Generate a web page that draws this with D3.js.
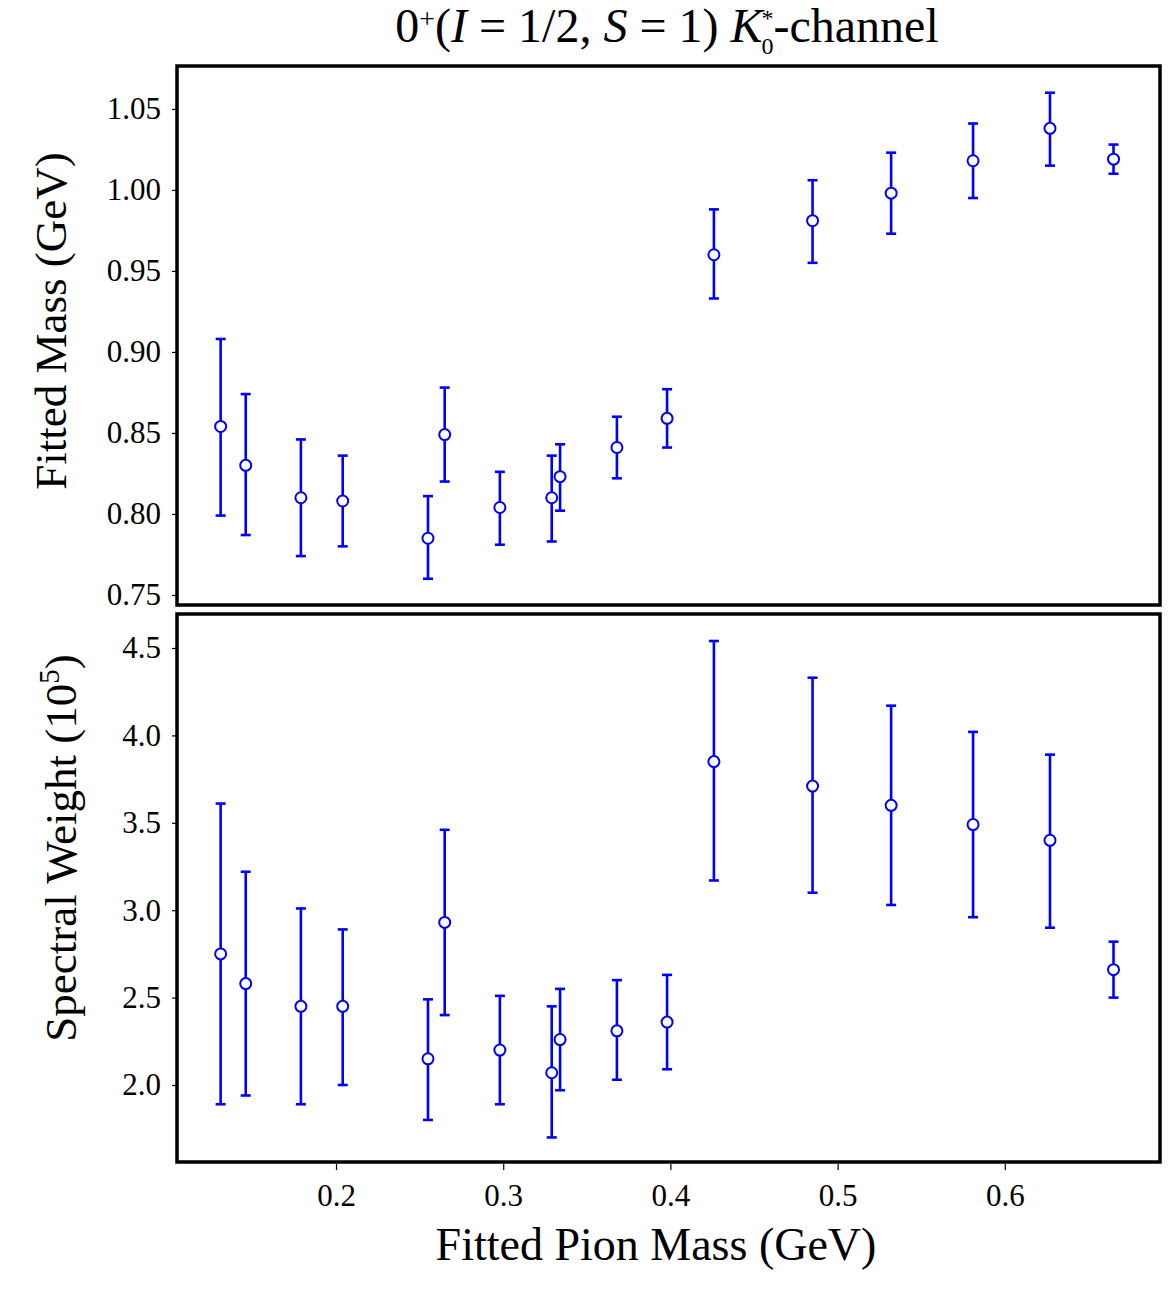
<!DOCTYPE html>
<html>
<head>
<meta charset="utf-8">
<script src="https://cdn.jsdelivr.net/npm/d3@7"></script>
<style>
  body { margin: 0; background: #fff; }
  text { font-family: "Liberation Serif", "DejaVu Serif", serif; }
</style>
</head>
<body>
<div id="chart"></div>
<script>
// pion masses (GeV)
var pionMass = [0.131, 0.146, 0.179, 0.204, 0.255, 0.265, 0.298, 0.329, 0.334, 0.368, 0.398,
                0.426, 0.485, 0.532, 0.581, 0.627, 0.665];

// fitted mass (GeV) and error bar ends
var massVal  = [0.854, 0.830, 0.810, 0.808, 0.785, 0.849, 0.804, 0.810, 0.823, 0.841, 0.859,
                0.960, 0.981, 0.998, 1.018, 1.038, 1.019];
var massHigh = [0.908, 0.874, 0.846, 0.836, 0.811, 0.878, 0.826, 0.836, 0.843, 0.860, 0.877,
                0.988, 1.006, 1.023, 1.041, 1.060, 1.028];
var massLow  = [0.799, 0.787, 0.774, 0.780, 0.760, 0.820, 0.781, 0.783, 0.802, 0.822, 0.841,
                0.933, 0.955, 0.973, 0.995, 1.015, 1.010];

// spectral weight (10^5) and error bar ends
var weightVal  = [2.75, 2.58, 2.45, 2.45, 2.15, 2.93, 2.20, 2.07, 2.26, 2.31, 2.36,
                  3.85, 3.71, 3.60, 3.49, 3.40, 2.66];
var weightHigh = [3.61, 3.22, 3.01, 2.89, 2.49, 3.46, 2.51, 2.45, 2.55, 2.60, 2.63,
                  4.54, 4.33, 4.17, 4.02, 3.89, 2.82];
var weightLow  = [1.89, 1.94, 1.89, 2.00, 1.80, 2.40, 1.89, 1.70, 1.97, 2.03, 2.09,
                  3.17, 3.10, 3.03, 2.96, 2.90, 2.50];

var xTicks = [0.2, 0.3, 0.4, 0.5, 0.6];
var massTicks = [0.75, 0.80, 0.85, 0.90, 0.95, 1.00, 1.05];
var weightTicks = [2.0, 2.5, 3.0, 3.5, 4.0, 4.5];

var width = 1168, height = 1295;
var left = 177, right = 1160;

var svg = d3.select("#chart").append("svg")
    .attr("width", width)
    .attr("height", height);

var x = d3.scaleLinear().domain([0.1049, 0.6928]).range([left, right]);

function makePanel(top, bottom, yDomain, ticks, fmt, vals, hi, lo) {
    var y = d3.scaleLinear().domain(yDomain).range([bottom, top]);
    var g = svg.append("g");

    // y axis ticks
    var yAxis = d3.axisLeft(y).tickValues(ticks).tickFormat(d3.format(fmt)).tickSize(5).tickPadding(11);
    var ya = g.append("g").attr("transform", "translate(" + left + ",0)").call(yAxis);
    ya.select(".domain").remove();
    ya.selectAll("line").attr("stroke", "#000").attr("stroke-width", 1.2);
    ya.selectAll("text").attr("font-size", 31).attr("fill", "#000")
        .style("font-family", "'Liberation Serif', serif");

    var pts = pionMass.map(function (m, i) { return { x: m, v: vals[i], hi: hi[i], lo: lo[i] }; });

    var bars = g.selectAll(".err").data(pts).enter().append("g").attr("class", "err");
    bars.append("line")
        .attr("x1", function (d) { return x(d.x); })
        .attr("x2", function (d) { return x(d.x); })
        .attr("y1", function (d) { return y(d.hi); })
        .attr("y2", function (d) { return y(d.lo); })
        .attr("stroke", "#0000ff").attr("stroke-width", 2.6);
    bars.append("line")
        .attr("x1", function (d) { return x(d.x) - 5; })
        .attr("x2", function (d) { return x(d.x) + 5; })
        .attr("y1", function (d) { return y(d.hi); })
        .attr("y2", function (d) { return y(d.hi); })
        .attr("stroke", "#0000ff").attr("stroke-width", 2.6);
    bars.append("line")
        .attr("x1", function (d) { return x(d.x) - 5; })
        .attr("x2", function (d) { return x(d.x) + 5; })
        .attr("y1", function (d) { return y(d.lo); })
        .attr("y2", function (d) { return y(d.lo); })
        .attr("stroke", "#0000ff").attr("stroke-width", 2.6);
    bars.append("circle")
        .attr("cx", function (d) { return x(d.x); })
        .attr("cy", function (d) { return y(d.v); })
        .attr("r", 5.5)
        .attr("fill", "#fff")
        .attr("stroke", "#0000ff").attr("stroke-width", 2);

    // frame
    g.append("rect")
        .attr("x", left).attr("y", top)
        .attr("width", right - left).attr("height", bottom - top)
        .attr("fill", "none").attr("stroke", "#000").attr("stroke-width", 3.5);
    return y;
}

makePanel(66, 605, [0.7438, 1.0765], massTicks, ".2f", massVal, massHigh, massLow);
makePanel(614, 1162, [1.5595, 4.6945], weightTicks, ".1f", weightVal, weightHigh, weightLow);

// x axis below bottom panel
var xAxis = d3.axisBottom(x).tickValues(xTicks).tickFormat(d3.format(".1f")).tickSize(6).tickPadding(14);
var xa = svg.append("g").attr("transform", "translate(0,1164)").call(xAxis);
xa.select(".domain").remove();
xa.selectAll("line").attr("stroke", "#000").attr("stroke-width", 1.2);
xa.selectAll("text").attr("font-size", 31).attr("fill", "#000")
    .style("font-family", "'Liberation Serif', serif");

// axis titles
svg.append("text")
    .attr("x", 656).attr("y", 1260)
    .attr("text-anchor", "middle")
    .attr("font-size", 46)
    .text("Fitted Pion Mass (GeV)");

svg.append("text")
    .attr("transform", "translate(66,321) rotate(-90)")
    .attr("text-anchor", "middle")
    .attr("font-size", 45)
    .text("Fitted Mass (GeV)");

var wl = svg.append("text")
    .attr("transform", "translate(76,848) rotate(-90)")
    .attr("text-anchor", "middle")
    .attr("font-size", 45);
wl.append("tspan").text("Spectral Weight (10");
wl.append("tspan").attr("dy", -17).attr("font-size", 29).text("5");
wl.append("tspan").attr("dy", 17).text(")");

// title
var title = svg.append("text")
    .attr("x", 667).attr("y", 42)
    .attr("text-anchor", "middle")
    .attr("font-size", 48);
title.append("tspan").text("0");
title.append("tspan").attr("dy", -14).attr("font-size", 28).text("+");
title.append("tspan").attr("dy", 14).text("(");
title.append("tspan").attr("font-style", "italic").text("I");
title.append("tspan").text(" = 1/2, ");
title.append("tspan").attr("font-style", "italic").text("S");
title.append("tspan").text(" = 1) ");
title.append("tspan").attr("font-style", "italic").text("K");
title.append("tspan").attr("dy", -16).attr("dx", -1).attr("font-size", 24).text("*");
title.append("tspan").attr("dy", 28).attr("dx", -12).attr("font-size", 24).text("0");
title.append("tspan").attr("dy", -12).text("-channel");
</script>
</body>
</html>
